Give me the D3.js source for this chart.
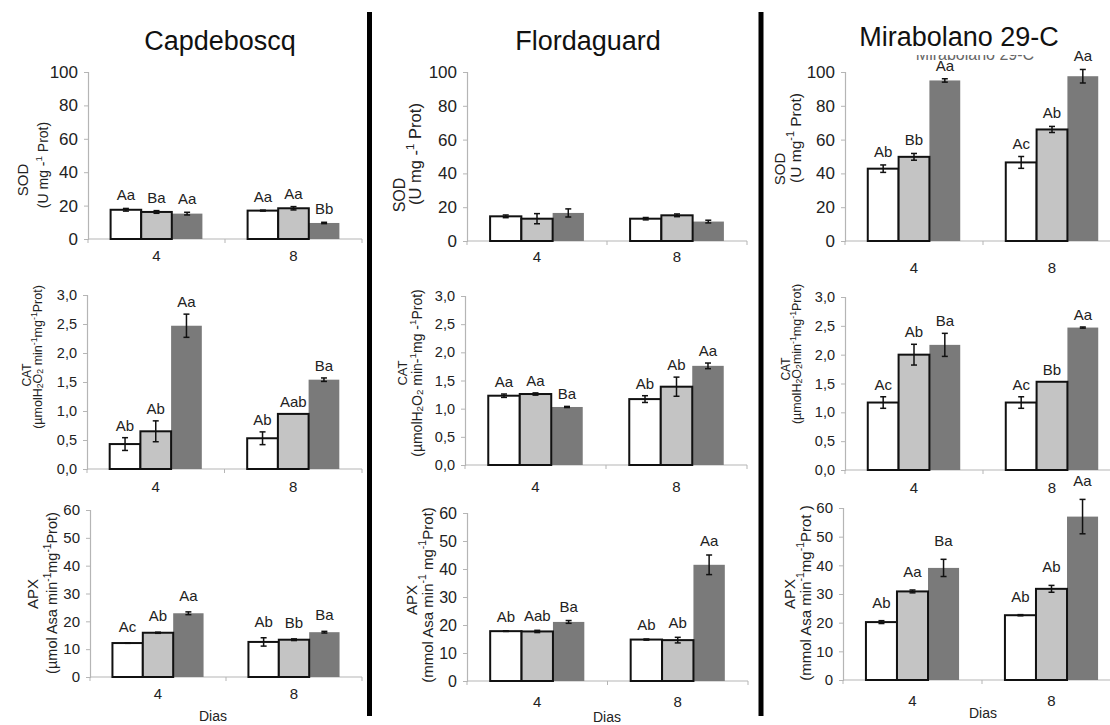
<!DOCTYPE html>
<html><head><meta charset="utf-8">
<script src="https://cdn.jsdelivr.net/npm/d3@7"></script>
<style>
body{margin:0;background:#fff}
svg{display:block}
text{font-family:"Liberation Sans",Arial,Helvetica,sans-serif}
</style>
</head><body>
<svg id="c" width="1110" height="725"></svg>
<script>
// ---------- DATA ----------
const categories = ["4", "8"];
const cultivars = ["Capdeboscq", "Flordaguard", "Mirabolano 29-C"];
const treatments = ["T1", "T2", "T3"];
const xAxisTitle = "Dias";

const sodTicks = [0, 20, 40, 60, 80, 100];
const sodTickLabels = ["0", "20", "40", "60", "80", "100"];
const catTicks = [0, 0.5, 1, 1.5, 2, 2.5, 3];
const catTickLabels = ["0,0", "0,5", "1,0", "1,5", "2,0", "2,5", "3,0"];
const apxTicks = [0, 10, 20, 30, 40, 50, 60];
const apxTickLabels = ["0", "10", "20", "30", "40", "50", "60"];

// values[category][treatment]
const sodCapValues  = [[17.5, 16.2, 15.2], [17.0, 18.4, 9.6]];
const sodCapErrors  = [[0.8, 0.8, 0.8], [0.3, 1.0, 0.4]];
const sodCapLetters = [["Aa", "Ba", "Aa"], ["Aa", "Aa", "Bb"]];

const sodFlorValues  = [[14.6, 13.2, 16.6], [13.2, 15.2, 11.5]];
const sodFlorErrors  = [[0.8, 3.0, 2.4], [0.7, 0.8, 0.8]];
const sodFlorLetters = [["", "", ""], ["", "", ""]];

const sodMirValues  = [[42.8, 49.8, 95.0], [46.5, 66.0, 97.5]];
const sodMirErrors  = [[2.2, 2.0, 1.0], [3.5, 1.8, 4.0]];
const sodMirLetters = [["Ab", "Bb", "Aa"], ["Ac", "Ab", "Aa"]];

const catCapValues  = [[0.43, 0.65, 2.47], [0.53, 0.95, 1.54]];
const catCapErrors  = [[0.11, 0.18, 0.2], [0.11, 0, 0.03]];
const catCapLetters = [["Ab", "Ab", "Aa"], ["Ab", "Aab", "Ba"]];

const catFlorValues  = [[1.23, 1.26, 1.03], [1.17, 1.39, 1.76]];
const catFlorErrors  = [[0.03, 0.02, 0.01], [0.06, 0.17, 0.05]];
const catFlorLetters = [["Aa", "Aa", "Ba"], ["Ab", "Ab", "Aa"]];

const catMirValues  = [[1.17, 2.0, 2.17], [1.17, 1.53, 2.47]];
const catMirErrors  = [[0.1, 0.18, 0.2], [0.1, 0, 0.01]];
const catMirLetters = [["Ac", "Ab", "Ba"], ["Ac", "Bb", "Aa"]];

const apxCapValues  = [[12.2, 15.9, 22.9], [12.6, 13.4, 16.1]];
const apxCapErrors  = [[0.1, 0.2, 0.5], [1.5, 0.3, 0.3]];
const apxCapLetters = [["Ac", "Ab", "Aa"], ["Ab", "Bb", "Ba"]];

const apxFlorValues  = [[17.8, 17.7, 21.1], [14.8, 14.6, 41.5]];
const apxFlorErrors  = [[0.1, 0.4, 0.5], [0.2, 1.0, 3.5]];
const apxFlorLetters = [["Ab", "Aab", "Ba"], ["Ab", "Ab", "Aa"]];

const apxMirValues  = [[20.2, 30.9, 39.1], [22.6, 31.8, 57.0]];
const apxMirErrors  = [[0.5, 0.5, 3.0], [0.2, 1.2, 6.0]];
const apxMirLetters = [["Ab", "Aa", "Ba"], ["Ab", "Ab", "Aa"]];

// axis titles: [text, kind] kind: n normal, sup, sub
const sodTitle = "SOD";
const sodSubCap  = [["(U mg -", "n"], ["1", "sup"], [" Prot)", "n"]];
const sodSubFlor = [["(U mg -", "n"], ["1", "sup"], [" Prot)", "n"]];
const sodSubMir  = [["(U mg", "n"], ["-1", "sup"], [" Prot)", "n"]];
const catTitle = "CAT";
const catSubCap  = [["(µmolH", "n"], ["2", "sub"], ["O", "n"], ["2", "sub"], [" min", "n"], ["-1", "sup"], ["mg", "n"], ["-1", "sup"], ["Prot)", "n"]];
const catSubFlor = [["(µmolH", "n"], ["2", "sub"], ["O", "n"], ["2", "sub"], [" min-", "n"], ["1", "sup"], ["mg -", "n"], ["1", "sup"], ["Prot)", "n"]];
const catSubMir  = [["(µmolH", "n"], ["2", "sub"], ["O", "n"], ["2", "sub"], ["min", "n"], ["-1", "sup"], ["mg", "n"], ["-1", "sup"], ["Prot)", "n"]];
const apxTitle = "APX";
const apxSubCap  = [["(µmol Asa min", "n"], ["-1", "sup"], ["mg", "n"], ["-1", "sup"], ["Prot)", "n"]];
const apxSubFlor = [["(mmol Asa min", "n"], ["-1", "sup"], [" mg", "n"], ["-1", "sup"], ["Prot)", "n"]];
const apxSubMir  = [["(mmol Asa min", "n"], ["-1", "sup"], ["mg", "n"], ["-1", "sup"], ["Prot )", "n"]];

// ---------- PANEL DEFINITIONS ----------
const panels = [
  {row:0,col:0,v:sodCapValues,e:sodCapErrors,lt:sodCapLetters,ticks:sodTicks,tl:sodTickLabels,title:sodTitle,sub:sodSubCap},
  {row:0,col:1,v:sodFlorValues,e:sodFlorErrors,lt:sodFlorLetters,ticks:sodTicks,tl:sodTickLabels,title:sodTitle,sub:sodSubFlor},
  {row:0,col:2,v:sodMirValues,e:sodMirErrors,lt:sodMirLetters,ticks:sodTicks,tl:sodTickLabels,title:sodTitle,sub:sodSubMir},
  {row:1,col:0,v:catCapValues,e:catCapErrors,lt:catCapLetters,ticks:catTicks,tl:catTickLabels,title:catTitle,sub:catSubCap},
  {row:1,col:1,v:catFlorValues,e:catFlorErrors,lt:catFlorLetters,ticks:catTicks,tl:catTickLabels,title:catTitle,sub:catSubFlor},
  {row:1,col:2,v:catMirValues,e:catMirErrors,lt:catMirLetters,ticks:catTicks,tl:catTickLabels,title:catTitle,sub:catSubMir},
  {row:2,col:0,v:apxCapValues,e:apxCapErrors,lt:apxCapLetters,ticks:apxTicks,tl:apxTickLabels,title:apxTitle,sub:apxSubCap},
  {row:2,col:1,v:apxFlorValues,e:apxFlorErrors,lt:apxFlorLetters,ticks:apxTicks,tl:apxTickLabels,title:apxTitle,sub:apxSubFlor},
  {row:2,col:2,v:apxMirValues,e:apxMirErrors,lt:apxMirLetters,ticks:apxTicks,tl:apxTickLabels,title:apxTitle,sub:apxSubMir}
];

// ---------- LAYOUT ----------
const layout = {
  "0-0": {l:88,  r:362,  t:72,  b:239, catY:255, tx1:22,  ty1:180, tx2:43,  ty2:165, fs1:15, fs2:14,   tickFs:17, labOff:8},
  "0-1": {l:467, r:747,  t:72,  b:241, catY:256, tx1:399, ty1:195, tx2:415, ty2:154, fs1:16, fs2:16.5, tickFs:17, labOff:8},
  "0-2": {l:845, r:1121, t:72,  b:241, catY:267, tx1:779, ty1:169, tx2:795, ty2:138, fs1:15, fs2:15.5, tickFs:17, labOff:8},
  "1-0": {l:87,  r:362,  t:295, b:469, catY:486, tx1:27,  ty1:375, tx2:38,  ty2:357, fs1:12, fs2:12.5, tickFs:14.5, labOff:7},
  "1-1": {l:465, r:747,  t:296, b:465, catY:486, tx1:402, ty1:373, tx2:417, ty2:373, fs1:13, fs2:14,   tickFs:14.5, labOff:7},
  "1-2": {l:845, r:1121, t:297, b:470, catY:487, tx1:786, ty1:369, tx2:797, ty2:354, fs1:12, fs2:12.5, tickFs:14.5, labOff:7},
  "2-0": {l:90,  r:362,  t:510, b:677, catY:693, tx1:32,  ty1:594, tx2:52,  ty2:593, fs1:15, fs2:14.5, tickFs:15, labOff:11},
  "2-1": {l:467, r:748,  t:513, b:681, catY:701, tx1:411, ty1:600, tx2:427, ty2:595, fs1:15, fs2:15,   tickFs:16, labOff:9},
  "2-2": {l:843, r:1121, t:508, b:680, catY:700, tx1:789, ty1:594, tx2:805, ty2:593, fs1:15, fs2:15,   tickFs:15, labOff:13}
};

const fills = {T1:"#ffffff", T2:"#c4c4c4", T3:"#7a7a7a"};
const strokes = {T1:"#111", T2:"#111", T3:"none"};

const svg = d3.select("#c");
svg.append("rect").attr("width",1110).attr("height",725).attr("fill","#fff");

// faint duplicate (scan artifact) under the third title, mostly hidden
const clip = svg.append("clipPath").attr("id","ghostClip");
clip.append("rect").attr("x",900).attr("y",55).attr("width",150).attr("height",5);
svg.append("text").attr("clip-path","url(#ghostClip)")
  .attr("x",975).attr("y",60).attr("text-anchor","middle")
  .attr("font-size",16).attr("fill","#666").text(cultivars[2]);

// cultivar titles
const titlePos = [{x:220,y:50},{x:588,y:50},{x:959,y:46}];
svg.selectAll("text.cult").data(cultivars).join("text")
  .attr("class","cult")
  .attr("x",(d,i)=>titlePos[i].x).attr("y",(d,i)=>titlePos[i].y)
  .attr("text-anchor","middle").attr("font-size",27).attr("fill","#111")
  .text(d=>d);

// divider lines
[369.5, 761].forEach(x=>{
  svg.append("line").attr("x1",x).attr("x2",x).attr("y1",12).attr("y2",716)
    .attr("stroke","#000").attr("stroke-width",5);
});

function addRich(textSel, parts){
  parts.forEach(([t,k])=>{
    const ts = textSel.append("tspan").text(t);
    if(k==="sup"){ ts.attr("font-size","70%").attr("baseline-shift","45%"); }
    if(k==="sub"){ ts.attr("font-size","70%").attr("baseline-shift","-20%"); }
  });
}

panels.forEach(p=>{
  const L = layout[p.row+"-"+p.col];
  const g = svg.append("g");
  const maxV = p.ticks[p.ticks.length-1];
  const y = d3.scaleLinear().domain([0,maxV]).range([L.b,L.t]);
  const x0 = d3.scaleBand().domain(categories).range([L.l,L.r]).padding(0);
  const bw = x0.bandwidth();
  const x1 = d3.scaleBand().domain(treatments).range([bw*0.165, bw*0.835]).padding(0);

  // y axis
  const yAxis = d3.axisLeft(y).tickValues(p.ticks).tickSize(4).tickPadding(6)
    .tickFormat((d,i)=>p.tl[i]);
  const ya = g.append("g").attr("transform",`translate(${L.l},0)`).call(yAxis);
  ya.select(".domain").attr("stroke","#b5b5b5").attr("stroke-width",1.2);
  ya.selectAll(".tick line").attr("stroke","#b5b5b5");
  ya.selectAll(".tick text").attr("font-size",L.tickFs).attr("fill","#222")
    .attr("font-family","'Liberation Sans',Arial,sans-serif");

  // x axis line with ticks at band boundaries
  const xa = g.append("g");
  xa.append("line").attr("x1",L.l).attr("x2",L.r).attr("y1",L.b).attr("y2",L.b)
    .attr("stroke","#b5b5b5").attr("stroke-width",1.2);
  const bounds = [x0(categories[0]), x0(categories[1]), x0(categories[1])+bw];
  xa.selectAll("line.xt").data(bounds).join("line").attr("class","xt")
    .attr("x1",d=>d).attr("x2",d=>d).attr("y1",L.b).attr("y2",L.b+4)
    .attr("stroke","#b5b5b5");
  xa.selectAll("text.cat").data(categories).join("text").attr("class","cat")
    .attr("x",d=>x0(d)+bw/2).attr("y",L.catY)
    .attr("text-anchor","middle").attr("dominant-baseline","central")
    .attr("font-size",15).attr("fill","#222").text(d=>d);

  // bars
  const flat = [];
  categories.forEach((c,ci)=>treatments.forEach((t,ti)=>{
    flat.push({c, t, v:p.v[ci][ti], e:p.e[ci][ti], lab:p.lt[ci][ti]});
  }));
  const order = flat.slice().sort((a,b)=>(a.t==="T3"?0:1)-(b.t==="T3"?0:1));
  g.selectAll("rect.bar").data(order).join("rect").attr("class","bar")
    .attr("x",d=>x0(d.c)+x1(d.t)).attr("width",x1.bandwidth())
    .attr("y",d=>y(d.v)).attr("height",d=>y(0)-y(d.v))
    .attr("fill",d=>fills[d.t]).attr("stroke",d=>strokes[d.t]).attr("stroke-width",2);

  // error bars
  const eb = flat.filter(d=>d.e>0);
  const cx = d=>x0(d.c)+x1(d.t)+x1.bandwidth()/2;
  g.selectAll("line.ev").data(eb).join("line").attr("class","ev")
    .attr("x1",cx).attr("x2",cx).attr("y1",d=>y(d.v-d.e)).attr("y2",d=>y(d.v+d.e))
    .attr("stroke","#111").attr("stroke-width",1.5);
  ["top","bot"].forEach(k=>{
    g.selectAll("line.cap"+k).data(eb).join("line").attr("class","cap"+k)
      .attr("x1",d=>cx(d)-3).attr("x2",d=>cx(d)+3)
      .attr("y1",d=>y(k==="top"?d.v+d.e:d.v-d.e)).attr("y2",d=>y(k==="top"?d.v+d.e:d.v-d.e))
      .attr("stroke","#111").attr("stroke-width",1.5);
  });

  // letters
  g.selectAll("text.lab").data(flat.filter(d=>d.lab)).join("text").attr("class","lab")
    .attr("x",cx).attr("y",d=>y(d.v+d.e)-L.labOff)
    .attr("text-anchor","middle").attr("font-size",15).attr("fill","#222")
    .text(d=>d.lab);

  // axis titles (rotated)
  g.append("text").attr("transform",`translate(${L.tx1},${L.ty1}) rotate(-90)`)
    .attr("text-anchor","middle").attr("dominant-baseline","central")
    .attr("font-size",L.fs1).attr("fill","#222").text(p.title);
  const t2 = g.append("text").attr("transform",`translate(${L.tx2},${L.ty2}) rotate(-90)`)
    .attr("text-anchor","middle").attr("dominant-baseline","central")
    .attr("font-size",L.fs2).attr("fill","#222");
  addRich(t2, p.sub);
});

// x axis titles
const diasPos = [{x:213,y:716},{x:607,y:717},{x:983,y:713}];
svg.selectAll("text.dias").data(diasPos).join("text").attr("class","dias")
  .attr("x",d=>d.x).attr("y",d=>d.y).attr("text-anchor","middle")
  .attr("dominant-baseline","central").attr("font-size",14).attr("fill","#222")
  .text(xAxisTitle);
</script>
</body></html>
